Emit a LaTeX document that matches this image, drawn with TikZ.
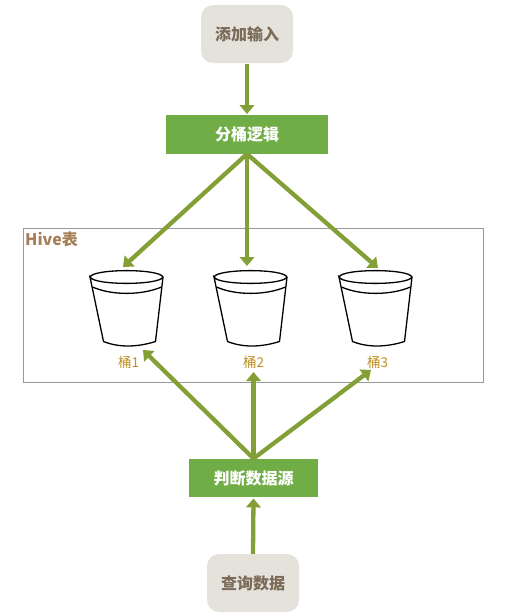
\documentclass[tikz,border=0pt]{standalone}
\usepackage{fontspec}
\setmainfont{Noto Sans CJK SC}
\usetikzlibrary{arrows.meta, positioning, calc}
\definecolor{stonefill}{HTML}{E5E2DC}
\definecolor{stonetext}{HTML}{7B6C58}
\definecolor{leafgreen}{HTML}{70AD47}
\definecolor{olivearrow}{HTML}{82A035}
\definecolor{hivebrown}{HTML}{A67F59}
\definecolor{labelgold}{HTML}{BF8F1F}
\tikzset{
    x=1pt, y=-1pt,
    endbox/.style={rectangle, fill=stonefill, rounded corners=12pt, minimum width=92pt, minimum height=58pt, align=center, text=stonetext, font=\fontsize{16}{18}\selectfont\bfseries},
    stepbox/.style={rectangle, fill=leafgreen, minimum height=38.5pt, align=center, text=white, font=\fontsize{16}{18}\selectfont\bfseries},
    arrow/.style={-{Triangle[length=9pt,width=14.5pt]}, line width=4.3pt, draw=olivearrow},
    bucketbox/.style={rectangle, minimum width=73pt, minimum height=77pt, inner sep=0pt},
    bucketlabel/.style={text=labelgold, inner sep=0pt, font=\fontsize{13.5}{15}\selectfont},
    bucket/.pic={
        \draw[line width=1.3pt, fill=white] (-36.5,-31.5) .. controls (-33,-40) and (33,-40) .. (36.5,-31.5)
            .. controls (33,-23) and (-33,-23) .. (-36.5,-31.5)
            -- (-23,33) .. controls (-8,39) and (10,39) .. (29,33) -- (36.5,-31.5);
        \draw[line width=1.3pt] (-34,-21.5) .. controls (-15,-13) and (15,-13) .. (35,-21.5);
    }
}
\begin{document}
\begin{tikzpicture}
    \useasboundingbox (0,0) rectangle (511,616);
    \node[endbox] (input) at (247,34) {添加输入};
    \node[stepbox, minimum width=162pt] (split) at (247,134.5) {分桶逻辑};
    \node[rectangle, draw=black!40, line width=0.8pt, minimum width=460pt, minimum height=153.5pt] (hive) at (253.5,305.25) {};
    \node[anchor=north west, inner sep=0pt, text=hivebrown, font=\fontsize{16}{18}\selectfont\bfseries] (hivetitle) at (25,232) {Hive表};
    \node[bucketbox] (bucket1) at (126.5,308.5) {};
    \node[bucketbox] (bucket2) at (250.5,308.5) {};
    \node[bucketbox] (bucket3) at (375.5,308.5) {};
    \pic at (bucket1) {bucket};
    \pic at (bucket2) {bucket};
    \pic at (bucket3) {bucket};
    \node[bucketlabel] (label1) at (128.5,362) {桶1};
    \node[bucketlabel] (label2) at (253.5,362) {桶2};
    \node[bucketlabel] (label3) at (377.5,362) {桶3};
    \node[stepbox, minimum width=129pt] (judge) at (253.5,478) {判断数据源};
    \node[endbox] (query) at (253,583) {查询数据};
    \coordinate (top1) at (123,267);
    \coordinate (top2) at (247,266);
    \coordinate (top3) at (378,268);
    \coordinate (low1) at (143,350);
    \coordinate (low2) at (253.5,372);
    \coordinate (low3) at (371,370);
    \draw[arrow] ($(input.south)+(0,1)$) -- ($(split.north)+(0,-1)$);
    \draw[arrow] (split.south) -- (top1);
    \draw[arrow] (split.south) -- (top2);
    \draw[arrow] (split.south) -- (top3);
    \draw[arrow] (judge.north) -- (low1);
    \draw[arrow] (judge.north) -- (low2);
    \draw[arrow] (judge.north) -- (low3);
    \draw[arrow] (query.north) -- ($(judge.south)+(0,1)$);
\end{tikzpicture}
\end{document}
